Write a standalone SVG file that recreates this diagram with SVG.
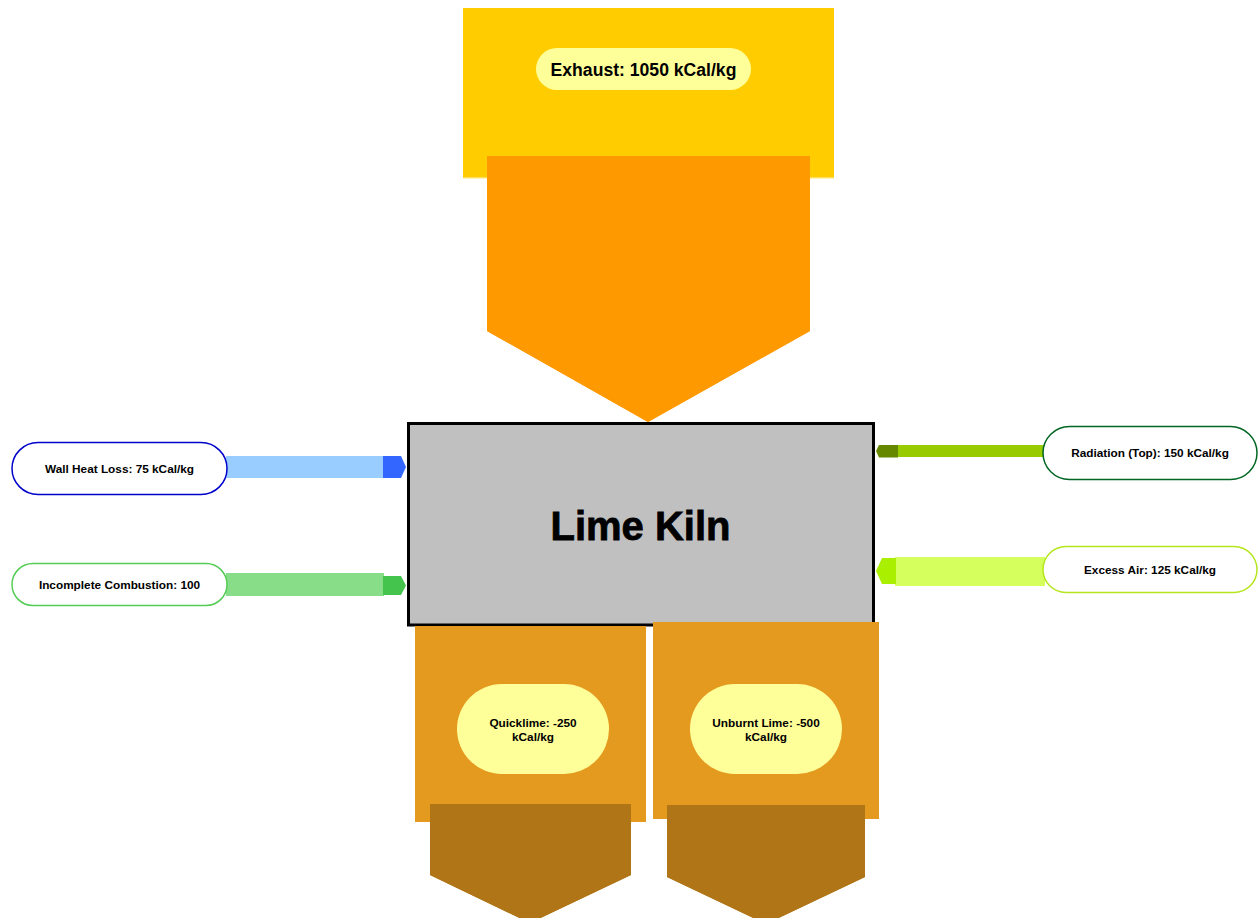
<svg xmlns="http://www.w3.org/2000/svg" width="1258" height="918" viewBox="0 0 1258 918">
  <style>
    .lbl { font-family: "Liberation Sans", Arial, sans-serif; font-weight: bold; fill: #000; text-anchor: middle; dominant-baseline: central; }
    .small { font-size: 11.8px; }
    .pill { fill: #FFFFFF; stroke-width: 1.5; }
    .soft { fill: #FFFF99; }
  </style>
  <rect width="1258" height="918" fill="#FFFFFF"/>

  <!-- flows between the kiln and its heat sources/sinks -->
  <g id="connectors">
    <!-- exhaust flow up into stack -->
    <polygon points="487,156 810,156 810,331 648,422 487,331" fill="#FF9900"/>
    <!-- wall heat loss -->
    <rect x="226" y="456" width="158" height="22" fill="#99CCFF"/>
    <polygon points="383,456 401,456 406,467 401,478 383,478" fill="#3366FF"/>
    <!-- incomplete combustion -->
    <rect x="226" y="573" width="158" height="23" fill="#88DD88"/>
    <polygon points="383,576 401,576 406,585.5 401,595 383,595" fill="#44C44C"/>
    <!-- radiation -->
    <rect x="897" y="445" width="148" height="12" fill="#99CC00"/>
    <polygon points="898,445 879,445 876,451 879,457.5 898,457.5" fill="#668800"/>
    <!-- excess air -->
    <rect x="895" y="557" width="150" height="29" fill="#D4FF5C"/>
    <polygon points="896,558 882,558 876,571 882,584 896,584" fill="#AAEE00"/>
    <!-- product outflows -->
    <polygon points="430,804 631,804 631,875 530,923 430,875" fill="#B07516"/>
    <polygon points="667,805 865,805 865,877 766,924 667,877" fill="#B07516"/>
  </g>

  <g id="exhaust">
    <rect x="463" y="8" width="371" height="170" fill="#FFCC00"/>
    <rect x="463" y="177" width="371" height="1.5" fill="#FFE066"/>
    <polygon points="487,156 810,156 810,331 648,422 487,331" fill="#FF9900"/>
    <rect class="soft" x="536" y="48" width="215" height="42" rx="21"/>
    <text class="lbl" x="643.5" y="70" font-size="17.6">Exhaust: 1050 kCal/kg</text>
  </g>

  <g id="kiln">
    <rect x="408.5" y="423.5" width="465" height="201.5" fill="#C0C0C0" stroke="#000" stroke-width="3"/>
    <text class="lbl" x="640.5" y="526" font-size="40" stroke="#000" stroke-width="0.8">Lime Kiln</text>
  </g>

  <g id="wall-heat-loss">
    <rect class="pill" x="12" y="442.5" width="215" height="52" rx="26" stroke="#0000CC"/>
    <text class="lbl small" x="119.5" y="469">Wall Heat Loss: 75 kCal/kg</text>
  </g>

  <g id="incomplete-combustion">
    <rect class="pill" x="12" y="563.5" width="215" height="42" rx="21" stroke="#55CC55"/>
    <text class="lbl small" x="119.5" y="584.5">Incomplete Combustion: 100</text>
  </g>

  <g id="radiation">
    <rect class="pill" x="1043" y="426.5" width="214" height="53" rx="26.5" stroke="#006622"/>
    <text class="lbl small" x="1150" y="453">Radiation (Top): 150 kCal/kg</text>
  </g>

  <g id="excess-air">
    <rect class="pill" x="1043" y="546.5" width="214" height="46" rx="23" stroke="#B5E61D"/>
    <text class="lbl small" x="1150" y="570">Excess Air: 125 kCal/kg</text>
  </g>

  <g id="quicklime">
    <rect x="415" y="626" width="231" height="196" fill="#E49A1F"/>
    <polygon points="430,804 631,804 631,875 530,923 430,875" fill="#B07516"/>
    <rect class="soft" x="457" y="684" width="152" height="90" rx="45"/>
    <text class="lbl small" x="533" y="723">Quicklime: -250</text>
    <text class="lbl small" x="533" y="737">kCal/kg</text>
  </g>

  <g id="unburnt-lime">
    <rect x="653" y="622" width="226" height="197" fill="#E49A1F"/>
    <polygon points="667,805 865,805 865,877 766,924 667,877" fill="#B07516"/>
    <rect class="soft" x="690" y="684" width="152" height="90" rx="45"/>
    <text class="lbl small" x="766" y="723">Unburnt Lime: -500</text>
    <text class="lbl small" x="766" y="737">kCal/kg</text>
  </g>
</svg>
